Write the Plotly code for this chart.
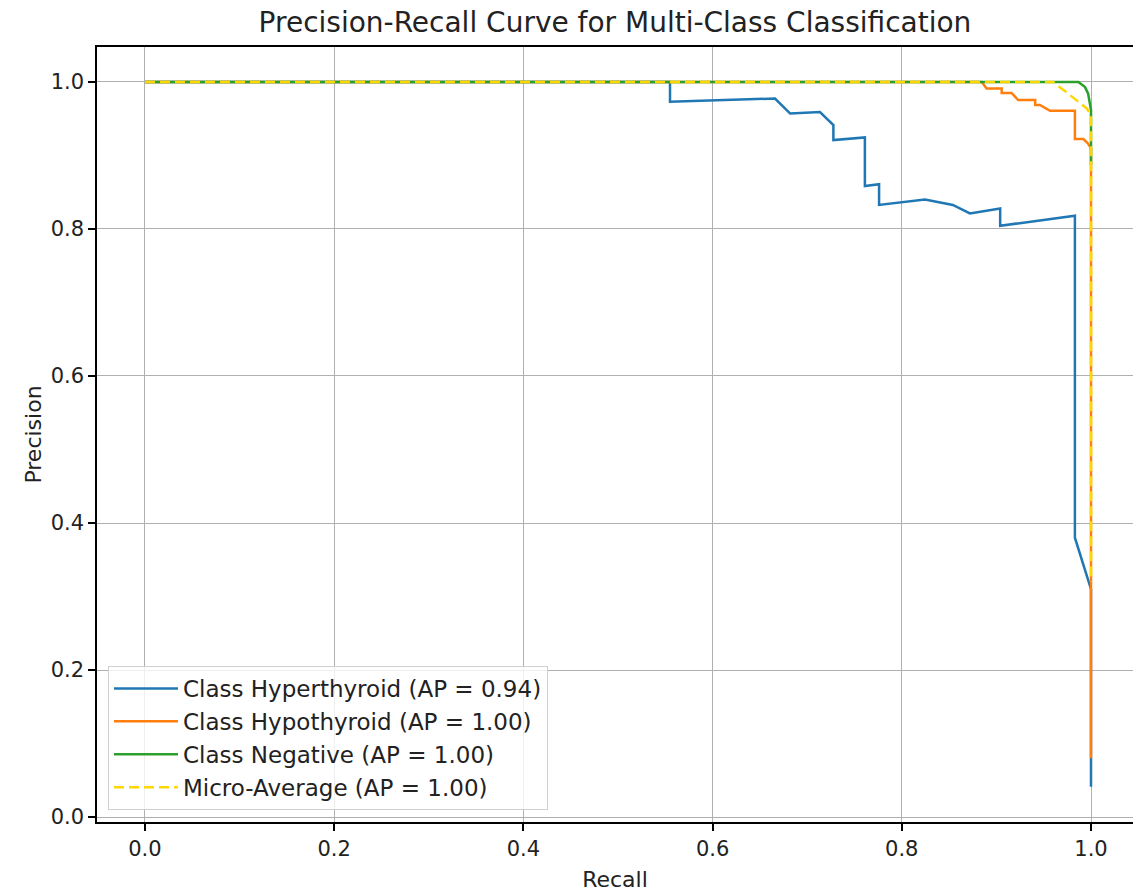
import plotly.graph_objects as go

# --- Data ---
hyper_recall = [0.0, 0.555, 0.555, 0.666, 0.682, 0.7135, 0.7277, 0.7277, 0.761, 0.761,
                0.776, 0.776, 0.8245, 0.854, 0.872, 0.904, 0.904, 0.983, 0.983, 1.0, 1.0]
hyper_precision = [1.0, 1.0, 0.973, 0.9775, 0.957, 0.959, 0.9415, 0.921, 0.9245, 0.8585,
                   0.861, 0.8327, 0.840, 0.8327, 0.8211, 0.828, 0.8044, 0.818, 0.380, 0.310, 0.041]

hypo_recall = [0.0, 0.8845, 0.8896, 0.9056, 0.9056, 0.916, 0.923, 0.941, 0.941, 0.946,
               0.9567, 0.983, 0.983, 0.992, 0.997, 1.0, 1.0]
hypo_precision = [1.0, 1.0, 0.991, 0.991, 0.985, 0.985, 0.9755, 0.9755, 0.9687, 0.9687,
                  0.9607, 0.9607, 0.9224, 0.9224, 0.916, 0.91, 0.08]

neg_recall = [0.0, 0.9867, 0.9937, 0.997, 1.0, 1.0]
neg_precision = [1.0, 1.0, 0.993, 0.984, 0.962, 0.887]

micro_recall = [0.0, 0.960, 0.976, 0.9955, 1.0, 1.0]
micro_precision = [1.0, 1.0, 0.984, 0.964, 0.955, 0.32]

labels = ["Class Hyperthyroid (AP = 0.94)", "Class Hypothyroid (AP = 1.00)",
          "Class Negative (AP = 1.00)", "Micro-Average (AP = 1.00)"]
colors = ["#1f77b4", "#ff7f0e", "#2ca02c", "#ffd700"]

x_ticks = [0.0, 0.2, 0.4, 0.6, 0.8, 1.0]
y_ticks = [0.0, 0.2, 0.4, 0.6, 0.8, 1.0]

FONT = "DejaVu Sans"
TXT = "#222222"

fig = go.Figure()
series = [(hyper_recall, hyper_precision), (hypo_recall, hypo_precision),
          (neg_recall, neg_precision)]
for (r, p), name, c in zip(series, labels[:3], colors[:3]):
    fig.add_trace(go.Scatter(x=r, y=p, mode="lines", name=name,
                             line=dict(color=c, width=2.5)))
fig.add_trace(go.Scatter(x=micro_recall, y=micro_precision, mode="lines", name=labels[3],
                         line=dict(color=colors[3], width=2.5, dash="10px,5px")))

fig.update_layout(
    width=1133, height=894,
    margin=dict(l=97, r=0, t=47, b=72),
    paper_bgcolor="white", plot_bgcolor="white",
    font=dict(family=FONT, size=21, color=TXT),
    title=dict(text="Precision-Recall Curve for Multi-Class Classification",
               x=0.5, xref="paper", xanchor="center",
               y=1 - 22 / 894, yref="container", yanchor="middle",
               font=dict(family=FONT, size=28, color=TXT)),
    showlegend=True,
    legend=dict(x=0.0106, y=0.0155, xanchor="left", yanchor="bottom",
                bgcolor="rgba(255,255,255,0.8)", bordercolor="#d0d0d0", borderwidth=1,
                itemwidth=64,
                font=dict(family=FONT, size=23, color=TXT)),
)
fig.update_xaxes(
    range=[-0.0507, 1.0444], tickvals=x_ticks, ticktext=[f"{v:.1f}" for v in x_ticks],
    showgrid=True, gridcolor="#b0b0b0", gridwidth=1, zeroline=False,
    showline=True, linecolor="black", linewidth=1.5, mirror=True,
    ticks="outside", ticklen=7, tickwidth=1.5, tickcolor="black",
    tickfont=dict(family=FONT, size=21, color=TXT),
    title=dict(text="Recall", standoff=12, font=dict(family=FONT, size=22, color=TXT)),
)
fig.update_yaxes(
    range=[-0.0068, 1.0476], tickvals=y_ticks, ticktext=[f"{v:.1f}" for v in y_ticks],
    showgrid=True, gridcolor="#b0b0b0", gridwidth=1, zeroline=False,
    showline=True, linecolor="black", linewidth=1.5, mirror=False,
    ticks="outside", ticklen=7, tickwidth=1.5, tickcolor="black",
    tickfont=dict(family=FONT, size=21, color=TXT),
    title=dict(text="Precision", standoff=3, font=dict(family=FONT, size=22, color=TXT)),
)

fig.write_html("out.html")
